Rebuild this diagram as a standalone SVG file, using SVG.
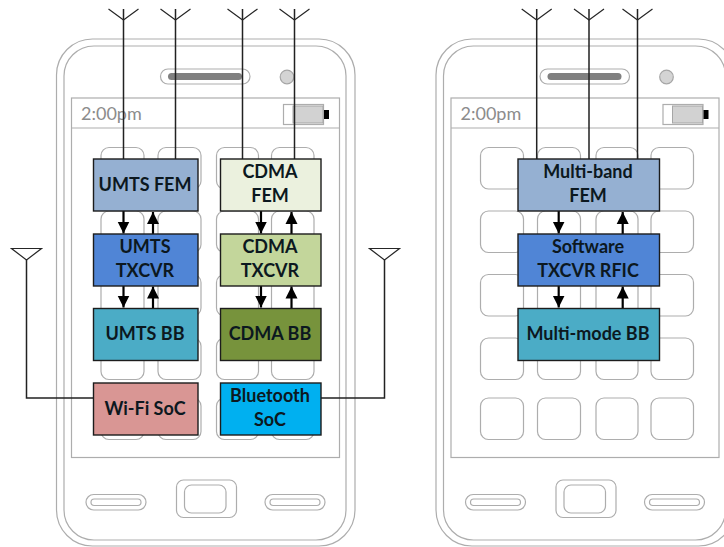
<svg xmlns="http://www.w3.org/2000/svg" xmlns:xlink="http://www.w3.org/1999/xlink" width="724" height="547" viewBox="0 0 724 547">
<style>
.ph{fill:none;stroke:#adadad;stroke-width:1.2}
.clock{font-family:"Lato","Liberation Sans",sans-serif;font-size:18px;fill:#8c8c8c}
.box{stroke:#1c1c1c;stroke-width:1.4}
.lbl{font-family:"Lato","Liberation Sans",sans-serif;font-weight:700;font-size:18px;fill:#0c1820;text-anchor:middle}
.wire{fill:none;stroke:#222;stroke-width:1.5}
.ant{fill:none;stroke:#262626;stroke-width:1.2}
.arr{fill:none;stroke:#000;stroke-width:2.2}
</style>
<defs>
<marker id="head" markerUnits="userSpaceOnUse" markerWidth="14" markerHeight="13" refX="12" refY="6.5" orient="auto"><path d="M0,0.5 L12,6.5 L0,12.5 Z" fill="#000"/></marker>
<g id="phone">
<rect class="ph" x="56.5" y="39" width="298.5" height="507" rx="36"/>
<rect class="ph" x="64" y="46" width="282" height="494" rx="30"/>
<rect class="ph" x="160.5" y="69" width="89.5" height="15" rx="7.5"/>
<rect x="168" y="73" width="74" height="7" rx="3.5" fill="#808080"/>
<circle cx="287" cy="77" r="6.8" fill="#d4d4d4" stroke="#a6a6a6" stroke-width="1.2"/>
<rect class="ph" x="71.5" y="98" width="268" height="359.5"/>
<path class="ph" d="M71.5,128 H339.5"/>
<text class="clock" x="81" y="119.5">2:00pm</text>
<rect class="ph" x="283.5" y="104.5" width="40" height="20"/>
<rect x="293" y="106" width="30" height="17" fill="#d2d2d2" stroke="#a6a6a6"/>
<rect x="324" y="110" width="5" height="9" fill="#000"/>
<g class="ph">
<rect x="101" y="147.5" width="43" height="41.5" rx="8"/><rect x="158" y="147.5" width="43" height="41.5" rx="8"/><rect x="216.5" y="147.5" width="42" height="41.5" rx="8"/><rect x="271.5" y="147.5" width="42.5" height="41.5" rx="8"/>
<rect x="101" y="211" width="43" height="41.5" rx="8"/><rect x="158" y="211" width="43" height="41.5" rx="8"/><rect x="216.5" y="211" width="42" height="41.5" rx="8"/><rect x="271.5" y="211" width="42.5" height="41.5" rx="8"/>
<rect x="101" y="274.5" width="43" height="41.5" rx="8"/><rect x="158" y="274.5" width="43" height="41.5" rx="8"/><rect x="216.5" y="274.5" width="42" height="41.5" rx="8"/><rect x="271.5" y="274.5" width="42.5" height="41.5" rx="8"/>
<rect x="101" y="338" width="43" height="41.5" rx="8"/><rect x="158" y="338" width="43" height="41.5" rx="8"/><rect x="216.5" y="338" width="42" height="41.5" rx="8"/><rect x="271.5" y="338" width="42.5" height="41.5" rx="8"/>
<rect x="101" y="398" width="43" height="41.5" rx="8"/><rect x="158" y="398" width="43" height="41.5" rx="8"/><rect x="216.5" y="398" width="42" height="41.5" rx="8"/><rect x="271.5" y="398" width="42.5" height="41.5" rx="8"/>
</g>
<rect class="ph" x="86" y="494.5" width="60" height="15.5" rx="7.7"/>
<rect class="ph" x="91" y="499" width="50" height="6.5" rx="3.2"/>
<rect class="ph" x="176.5" y="480" width="60" height="37.5" rx="7"/>
<rect class="ph" x="184.5" y="485" width="41.5" height="28" rx="7"/>
<rect class="ph" x="265" y="494.5" width="60" height="15.5" rx="7.7"/>
<rect class="ph" x="270" y="499" width="50" height="6.5" rx="3.2"/>
</g>
</defs>
<rect width="724" height="547" fill="#fff"/>
<g id="phone-left"><use href="#phone" xlink:href="#phone"/></g>
<g id="phone-right"><use href="#phone" xlink:href="#phone" x="379.5"/></g>
<g id="connectors">
<path class="wire" d="M123.5,9 V159 M175.5,9 V159 M242.5,9 V159 M294.5,9 V159"/>
<path class="ant" d="M108.5,9 L123.5,20 L138.5,9 M160.5,9 L175.5,20 L190.5,9 M227.5,9 L242.5,20 L257.5,9 M279.5,9 L294.5,20 L309.5,9"/>
<path class="wire" d="M536.7,9 V159 M589,9 V159 M637.5,9 V159"/>
<path class="ant" d="M521.7,9 L536.7,20 L551.7,9 M574,9 L589,20 L604,9 M622.5,9 L637.5,20 L652.5,9"/>
<path class="wire" d="M26.5,260 V398 H93.5 M384.5,260 V398 H321"/>
<path class="ant" d="M11.5,248.5 H41.5 L26.5,260 Z M369.5,248.5 H399.5 L384.5,260 Z"/>
<g class="arr">
<path d="M123.5,210 V233.5" marker-end="url(#head)"/><path d="M153,234 V212" marker-end="url(#head)"/>
<path d="M123.5,285 V307.5" marker-end="url(#head)"/><path d="M153,308 V286.5" marker-end="url(#head)"/>
<path d="M261,210 V233.5" marker-end="url(#head)"/><path d="M291.5,234 V212" marker-end="url(#head)"/>
<path d="M261,285 V307.5" marker-end="url(#head)"/><path d="M291.5,308 V286.5" marker-end="url(#head)"/>
<path d="M558.7,210 V233.5" marker-end="url(#head)"/><path d="M622.7,234 V212" marker-end="url(#head)"/>
<path d="M558.7,285 V307.5" marker-end="url(#head)"/><path d="M622.7,308 V286.5" marker-end="url(#head)"/>
</g>
</g>
<g id="umts-fem"><rect class="box" x="93.5" y="159" width="104.5" height="52" fill="#95B0D2"/><text class="lbl" x="145" y="190.5">UMTS FEM</text></g>
<g id="umts-txcvr"><rect class="box" x="93.5" y="234" width="104.5" height="52" fill="#5085D6"/><text class="lbl" x="145" y="253">UMTS</text><text class="lbl" x="145" y="277">TXCVR</text></g>
<g id="umts-bb"><rect class="box" x="93.5" y="308.5" width="104.5" height="52" fill="#4BACC6"/><text class="lbl" x="145" y="340">UMTS BB</text></g>
<g id="wifi-soc"><rect class="box" x="93.5" y="383" width="104.5" height="52" fill="#D99694"/><text class="lbl" x="145" y="414.5">Wi-Fi SoC</text></g>
<g id="cdma-fem"><rect class="box" x="220.5" y="159" width="100.5" height="52" fill="#EBF1DE"/><text class="lbl" x="270" y="178">CDMA</text><text class="lbl" x="270" y="202">FEM</text></g>
<g id="cdma-txcvr"><rect class="box" x="220.5" y="234" width="100.5" height="52" fill="#C3D69B"/><text class="lbl" x="270" y="253">CDMA</text><text class="lbl" x="270" y="277">TXCVR</text></g>
<g id="cdma-bb"><rect class="box" x="220.5" y="308.5" width="100.5" height="52" fill="#77933C"/><text class="lbl" x="270" y="340">CDMA BB</text></g>
<g id="bluetooth-soc"><rect class="box" x="220.5" y="383" width="100.5" height="52" fill="#00B0F0"/><text class="lbl" x="270" y="402">Bluetooth</text><text class="lbl" x="270" y="426">SoC</text></g>
<g id="multiband-fem"><rect class="box" x="518" y="159" width="141.5" height="52" fill="#95B0D2"/><text class="lbl" x="588" y="178">Multi-band</text><text class="lbl" x="588" y="202">FEM</text></g>
<g id="software-txcvr"><rect class="box" x="518" y="234" width="141.5" height="52" fill="#5085D6"/><text class="lbl" x="588" y="253">Software</text><text class="lbl" x="588" y="277">TXCVR RFIC</text></g>
<g id="multimode-bb"><rect class="box" x="518" y="308.5" width="141.5" height="52" fill="#4BACC6"/><text class="lbl" x="588" y="340">Multi-mode BB</text></g>
</svg>
